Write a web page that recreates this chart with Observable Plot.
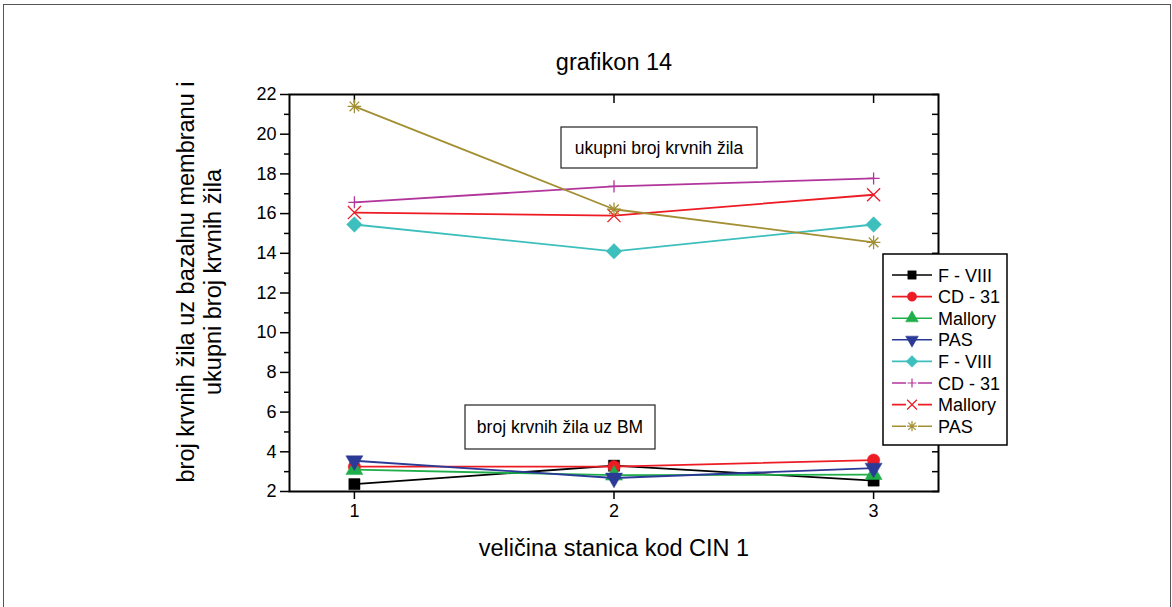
<!DOCTYPE html>
<html><head><meta charset="utf-8">
<script src="https://cdn.jsdelivr.net/npm/d3@7"></script>
<script src="https://cdn.jsdelivr.net/npm/@observablehq/plot@0.6"></script>
<style>
html,body{margin:0;padding:0;background:#fff;}
#wrap{position:relative;width:1172px;height:607px;overflow:hidden;font-family:"Liberation Sans",Arial,sans-serif;}
#border{position:absolute;left:3px;top:4px;width:1168px;height:640px;border:1.5px solid #555;box-sizing:border-box;}
#chart{position:absolute;left:0;top:0;}
#overlay{position:absolute;left:0;top:0;}
</style></head>
<body><div id="wrap"><div id="border"></div><div id="chart"></div><svg id="overlay" width="1172" height="607"></svg></div>
<script>
// ---- data ----
const categories = [1, 2, 3];
const seriesLabels = ["F - VIII", "CD - 31", "Mallory", "PAS", "F - VIII", "CD - 31", "Mallory", "PAS"];
// broj krvnih žila uz BM
const fviiiBM   = [2.37, 3.30, 2.55];
const cd31BM    = [3.25, 3.25, 3.58];
const malloryBM = [3.10, 2.82, 2.85];
const pasBM     = [3.55, 2.68, 3.18];
// ukupni broj krvnih žila
const fviiiTot   = [15.45, 14.10, 15.45];
const cd31Tot    = [16.57, 17.37, 17.77];
const malloryTot = [16.05, 15.90, 16.95];
const pasTot     = [21.40, 16.22, 14.55];
const yTicks = [2, 4, 6, 8, 10, 12, 14, 16, 18, 20, 22];
const titleText = "grafikon 14";
const xLabel = "veličina stanica kod CIN 1";
const yLabel1 = "broj krvnih žila uz bazalnu membranu i";
const yLabel2 = "ukupni broj krvnih žila";
const note1 = "ukupni broj krvnih žila";
const note2 = "broj krvnih žila uz BM";

// ---- styles ----
const asterisk8 = {draw(ctx, size){const r=Math.sqrt(size/Math.PI);const d=r*Math.SQRT1_2;
  ctx.moveTo(0,-r);ctx.lineTo(0,r);ctx.moveTo(-r,0);ctx.lineTo(r,0);
  ctx.moveTo(-d,-d);ctx.lineTo(d,d);ctx.moveTo(-d,d);ctx.lineTo(d,-d);}};
const styles = [
  {color:"#000000", symbol:"square",   r:6.3, filled:true,  rotate:0},
  {color:"#ed1c24", symbol:"circle",   r:6.2, filled:true,  rotate:0},
  {color:"#1fae4a", symbol:"triangle", r:6.3, filled:true,  rotate:0},
  {color:"#2b3a96", symbol:"triangle", r:6.3, filled:true,  rotate:180},
  {color:"#3dbfbd", symbol:"square",   r:6.2, filled:true,  rotate:45},
  {color:"#b2359c", symbol:"plus",     r:4.0, filled:false, rotate:0},
  {color:"#ed1c24", symbol:"times",    r:6.0, filled:false, rotate:0},
  {color:"#a38f33", symbol:asterisk8,  r:6.8, filled:false, rotate:0}
];
const seriesValues = [fviiiBM, cd31BM, malloryBM, pasBM, fviiiTot, cd31Tot, malloryTot, pasTot];

const marks = [];
seriesValues.forEach((vals, k) => {
  const rows = categories.map((c, i) => ({x: c, y: vals[i], s: seriesLabels[k]}));
  const st = styles[k];
  marks.push(Plot.line(rows, {x: "x", y: "y", stroke: st.color, strokeWidth: 1.8}));
  marks.push(Plot.dot(rows, {x: "x", y: "y", symbol: st.symbol, r: st.r, rotate: st.rotate,
    fill: st.filled ? st.color : "none", stroke: st.color, strokeWidth: st.filled ? 0.5 : 1.3}));
});

const chart = Plot.plot({
  width: 1172, height: 607,
  marginLeft: 289, marginRight: 234, marginTop: 94, marginBottom: 116,
  x: {domain: [0.75, 3.25]},
  y: {domain: [2, 22]},
  style: {fontFamily: "'Liberation Sans', Arial, sans-serif", fontSize: "18px", background: "transparent", color: "#000", overflow: "visible"},
  marks: [
    Plot.axisY(yTicks, {anchor: "left", tickSize: 9, tickPadding: 4, fontSize: 18, label: null, tickFormat: d3.format("d"), strokeWidth: 1.5}),
    Plot.axisY(d3.range(3, 22, 2), {anchor: "left", tickSize: 5, text: null, label: null, strokeWidth: 1.5}),
    Plot.axisY(d3.range(2, 23, 1), {anchor: "right", tickSize: -7, text: null, label: null, strokeWidth: 1.5}),
    Plot.axisX(categories, {anchor: "bottom", tickSize: 8, tickPadding: 5, fontSize: 18, label: null, tickFormat: d3.format("d"), strokeWidth: 1.5}),
    Plot.axisX(categories, {anchor: "top", tickSize: -8, text: null, label: null, strokeWidth: 1.5}),
    ...marks,
    Plot.frame({stroke: "#000", strokeWidth: 2})
  ]
});
document.getElementById("chart").appendChild(chart);

// ---- overlay: titles, notes, legend ----
const ov = d3.select("#overlay").style("font-family", "'Liberation Sans', Arial, sans-serif");
ov.append("text").attr("x", 614).attr("y", 70).attr("text-anchor", "middle").attr("font-size", 23.5).text(titleText);
ov.append("text").attr("x", 614).attr("y", 556).attr("text-anchor", "middle").attr("font-size", 23.5).text(xLabel);
ov.append("text").attr("transform", "translate(194,282) rotate(-90)").attr("text-anchor", "middle").attr("font-size", 23.5).text(yLabel1);
ov.append("text").attr("transform", "translate(221,282) rotate(-90)").attr("text-anchor", "middle").attr("font-size", 23.5).text(yLabel2);

function noteBox(x0, y0, w, h, txt){
  ov.append("rect").attr("x", x0).attr("y", y0).attr("width", w).attr("height", h)
    .attr("fill", "#fff").attr("stroke", "#222").attr("stroke-width", 1.2);
  ov.append("text").attr("x", x0 + w/2).attr("y", y0 + h/2 + 6).attr("text-anchor", "middle")
    .attr("font-size", 17.5).text(txt);
}
noteBox(561, 127, 196, 41, note1);
noteBox(465, 405, 190, 44, note2);

// legend
const lg = ov.append("g");
lg.append("rect").attr("x", 883).attr("y", 254).attr("width", 124).attr("height", 191)
  .attr("fill", "#fff").attr("stroke", "#000").attr("stroke-width", 1.5);
const d3sym = {square: d3.symbolSquare, circle: d3.symbolCircle, triangle: d3.symbolTriangle, plus: d3.symbolPlus, times: d3.symbolTimes};
seriesLabels.forEach((lab, k) => {
  const st = styles[k];
  const cy = 275 + k * 21.6;
  lg.append("line").attr("x1", 892).attr("x2", 932).attr("y1", cy).attr("y2", cy).attr("stroke", st.color).attr("stroke-width", 1.6);
  const sym = typeof st.symbol === "string" ? d3sym[st.symbol] : st.symbol;
  const rr = st.r * 0.75;
  lg.append("rect").attr("x", 906).attr("y", cy - 6).attr("width", 12).attr("height", 12).attr("fill", "#fff").attr("opacity", st.filled ? 0 : 1);
  lg.append("path").attr("d", d3.symbol(sym, Math.PI * rr * rr)())
    .attr("transform", `translate(912,${cy}) rotate(${st.rotate})`)
    .attr("fill", st.filled ? st.color : "none").attr("stroke", st.color).attr("stroke-width", st.filled ? 0.5 : 1.2);
  lg.append("text").attr("x", 938).attr("y", cy + 6.5).attr("font-size", 18).text(lab);
});
</script></body></html>
